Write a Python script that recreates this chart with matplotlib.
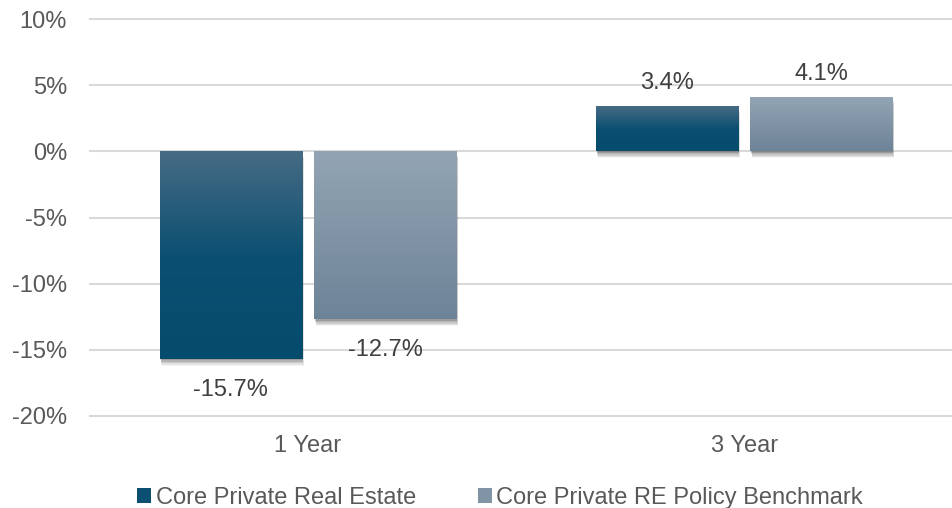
import numpy as np
import matplotlib.pyplot as plt
import matplotlib.patheffects as pe
from matplotlib.colors import to_rgb
from matplotlib.patches import Patch

plt.rcParams['font.family'] = ['Liberation Sans', 'DejaVu Sans']

periods = ['1 Year', '3 Year']
series = ['Core Private Real Estate', 'Core Private RE Policy Benchmark']
real_estate = [-15.7, 3.4]
benchmark = [-12.7, 4.1]
yticks = [-20, -15, -10, -5, 0, 5, 10]

# gradient stops (top -> bottom) for each series
dark_stops = [(0.0, '#476b84'), (0.5, '#0b5072'), (1.0, '#054b6b')]
light_stops = [(0.0, '#93a5b4'), (1.0, '#6d8397')]


def gradient(stops, n=200):
    t = np.linspace(0, 1, n)
    pos = [s[0] for s in stops]
    cols = np.array([to_rgb(s[1]) for s in stops])
    rgb = np.stack([np.interp(t, pos, cols[:, k]) for k in range(3)], axis=-1)
    return rgb[:, None, :]


fig = plt.figure(figsize=(9.53, 5.08), dpi=100)
ax = fig.add_axes([90 / 953, 92 / 508, 863 / 953, 397 / 508])

x = np.arange(len(periods))
width = 0.326
offset = 0.177
# soft drop shadow built from a few stacked offsets
shadow = [pe.SimplePatchShadow(offset=(dx, -dy), shadow_rgbFace='#000000', alpha=a)
          for dx, dy, a in [(0.5, 1.0, 0.12), (0.8, 2.0, 0.12), (1.0, 3.0, 0.10),
                            (1.2, 4.0, 0.07), (1.4, 5.0, 0.04)]]

for vals, dx, stops in [(real_estate, -offset, dark_stops), (benchmark, offset, light_stops)]:
    bars = ax.bar(x + dx, vals, width, color=stops[-1][1], zorder=3,
                  path_effects=shadow + [pe.Normal()])
    for b, v in zip(bars, vals):
        x0 = b.get_x()
        y0, y1 = min(0, v), max(0, v)
        im = ax.imshow(gradient(stops), extent=[x0, x0 + width, y0, y1],
                       aspect='auto', zorder=4, interpolation='bilinear')
        im.set_clip_path(b)
        if v < 0:
            ax.text(b.get_x() + width / 2, v - 1.5, f'{v:.1f}%', ha='center', va='top',
                    fontsize=17, color='#404040')
        else:
            ax.text(b.get_x() + width / 2, v + 0.9, f'{v:.1f}%', ha='center', va='bottom',
                    fontsize=17, color='#404040')

ax.set_xlim(-0.5, 1.479)
ax.set_ylim(-20, 10)
ax.set_yticks(yticks)
ax.set_yticklabels([f'{t}%' for t in yticks])
ax.set_xticks(x)
ax.set_xticklabels(periods)
ax.tick_params(length=0, labelsize=17, labelcolor='#595959')
ax.tick_params(axis='y', pad=16.5)
ax.tick_params(axis='x', pad=13.5)
ax.yaxis.grid(True, color='#d9d9d9', linewidth=1.5)
for gl in ax.get_ygridlines():
    gl.set_clip_on(False)
ax.set_axisbelow(True)
for s in ax.spines.values():
    s.set_visible(False)

handles = [Patch(facecolor='#0b5072'), Patch(facecolor='#8194a6')]
fig.legend(handles, series, loc='center', bbox_to_anchor=(500 / 953, 1 - 498 / 508),
           ncol=2, frameon=False, fontsize=17, labelcolor='#595959',
           handlelength=0.6, handleheight=0.6, handletextpad=0.2, columnspacing=2.6)

fig.savefig('out.png', dpi=100)
